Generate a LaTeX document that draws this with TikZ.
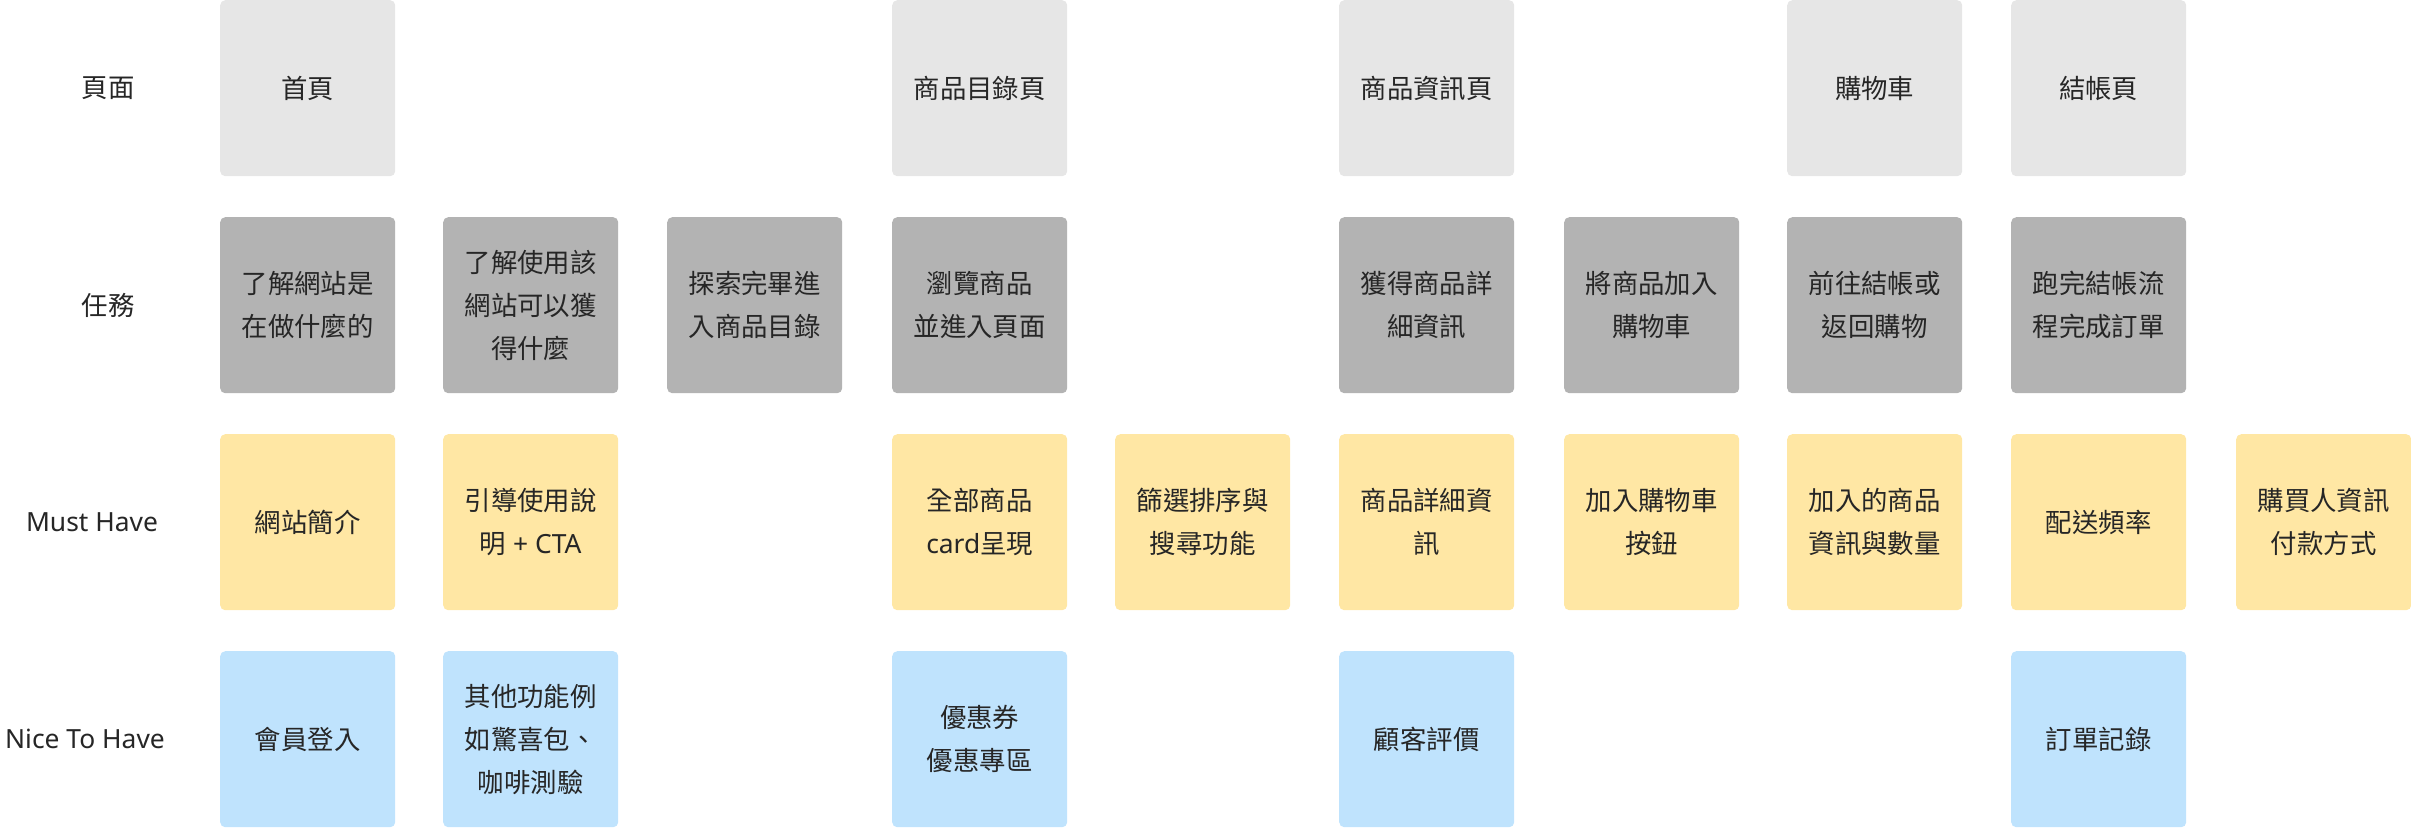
\documentclass[tikz,border=0pt]{standalone}
\usepackage{fontspec}
\setmainfont{Noto Sans CJK TC}
\newfontfamily\latinf{Noto Sans}
\definecolor{pagec}{HTML}{E6E6E6}
\definecolor{taskc}{HTML}{B3B3B3}
\definecolor{mustc}{HTML}{FFE7A4}
\definecolor{nicec}{HTML}{BFE3FD}
\definecolor{txt}{HTML}{262626}
\begin{document}
\begin{tikzpicture}[x=1pt,y=-1pt,
  card/.style={minimum width=175pt, minimum height=176pt, rounded corners=5pt, inner sep=0pt,
    align=center, text=txt, font=\fontsize{26.4}{43}\selectfont, anchor=north west},
  pagecard/.style={card, fill=pagec},
  taskcard/.style={card, fill=taskc},
  mustcard/.style={card, fill=mustc},
  nicecard/.style={card, fill=nicec},
  rowlabel/.style={inner sep=0pt, text=txt, font=\fontsize{26.4}{43}\selectfont}]
\useasboundingbox (0,0) rectangle (2411,827);
% row labels
\node[rowlabel] (l1) at (108,88) {頁面};
\node[rowlabel] (l2) at (108,305) {任務};
\node[rowlabel] (l3) at (92,522) {\latinf Must Have};
\node[rowlabel] (l4) at (85,739) {\latinf Nice To Have};
% row 1: pages
\node[pagecard] (p0) at (220,0) {首頁};
\node[pagecard] (p3) at (892,0) {商品目錄頁};
\node[pagecard] (p5) at (1339,0) {商品資訊頁};
\node[pagecard] (p7) at (1787,0) {購物車};
\node[pagecard] (p8) at (2011,0) {結帳頁};
% row 2: tasks
\node[taskcard] (t0) at (220,217) {了解網站是\\在做什麼的};
\node[taskcard] (t1) at (443,217) {了解使用該\\網站可以獲\\得什麼};
\node[taskcard] (t2) at (667,217) {探索完畢進\\入商品目錄};
\node[taskcard] (t3) at (892,217) {瀏覽商品\\並進入頁面};
\node[taskcard] (t5) at (1339,217) {獲得商品詳\\細資訊};
\node[taskcard] (t6) at (1564,217) {將商品加入\\購物車};
\node[taskcard] (t7) at (1787,217) {前往結帳或\\返回購物};
\node[taskcard] (t8) at (2011,217) {跑完結帳流\\程完成訂單};
% row 3: must have
\node[mustcard] (m0) at (220,434) {網站簡介};
\node[mustcard] (m1) at (443,434) {引導使用說\\明{\latinf\ + CTA}};
\node[mustcard] (m3) at (892,434) {全部商品\\{\latinf card}呈現};
\node[mustcard] (m4) at (1115,434) {篩選排序與\\搜尋功能};
\node[mustcard] (m5) at (1339,434) {商品詳細資\\訊};
\node[mustcard] (m6) at (1564,434) {加入購物車\\按鈕};
\node[mustcard] (m7) at (1787,434) {加入的商品\\資訊與數量};
\node[mustcard] (m8) at (2011,434) {配送頻率};
\node[mustcard] (m9) at (2236,434) {購買人資訊\\付款方式};
% row 4: nice to have
\node[nicecard] (n0) at (220,651) {會員登入};
\node[nicecard] (n1) at (443,651) {其他功能例\\如驚喜包、\\咖啡測驗};
\node[nicecard] (n3) at (892,651) {優惠券\\優惠專區};
\node[nicecard] (n5) at (1339,651) {顧客評價};
\node[nicecard] (n8) at (2011,651) {訂單記錄};
\end{tikzpicture}
\end{document}
